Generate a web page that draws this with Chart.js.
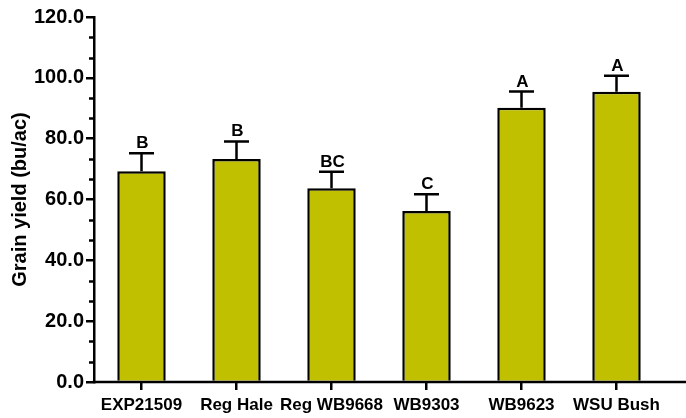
<!DOCTYPE html>
<html>
<head>
<meta charset="utf-8">
<script src="https://cdn.jsdelivr.net/npm/chart.js@4.4.1/dist/chart.umd.min.js"></script>
<style>
html,body{margin:0;padding:0;background:#fff;}
#wrap{width:686px;height:418px;position:relative;}
</style>
</head>
<body>
<div id="wrap"><canvas id="c" width="686" height="418"></canvas></div>
<script>
const categories = ['EXP21509', 'Reg Hale', 'Reg WB9668', 'WB9303', 'WB9623', 'WSU Bush'];
const yieldMeans = [69.3, 73.3, 63.7, 56.2, 90.2, 95.4];
const yieldErrors = [5.9, 5.8, 5.4, 5.5, 5.3, 5.3];
const groupLetters = ['B', 'B', 'BC', 'C', 'A', 'A'];
const yMin = 0, yMax = 120, yMajorStep = 20, yMinorPerMajor = 3;

const FONT = '"Liberation Sans", Arial, sans-serif';

const extrasPlugin = {
  id: 'extras',
  afterDatasetsDraw(chart) {
    const ctx = chart.ctx;
    const x = chart.scales.x, y = chart.scales.y;
    ctx.save();
    ctx.strokeStyle = '#000';
    ctx.fillStyle = '#000';
    ctx.lineWidth = 2.5;
    ctx.lineCap = 'butt';
    yieldMeans.forEach((m, i) => {
      const cx = x.getPixelForValue(i);
      const yTop = y.getPixelForValue(m);
      const yCap = y.getPixelForValue(m + yieldErrors[i]);
      ctx.beginPath();
      ctx.moveTo(cx, yTop);
      ctx.lineTo(cx, yCap);
      ctx.moveTo(cx - 12.5, yCap);
      ctx.lineTo(cx + 12.5, yCap);
      ctx.stroke();
      ctx.font = 'bold 17px ' + FONT;
      ctx.textAlign = 'center';
      ctx.textBaseline = 'alphabetic';
      ctx.fillText(groupLetters[i], cx + 1, yCap - 5);
    });
    ctx.restore();
  },
  afterDraw(chart) {
    const ctx = chart.ctx;
    const y = chart.scales.y;
    const area = chart.chartArea;
    ctx.save();
    ctx.strokeStyle = '#000';
    ctx.lineWidth = 2.5;
    const minorStep = yMajorStep / yMinorPerMajor;
    for (let k = 0; k * minorStep <= yMax + 1e-9; k++) {
      if (k % yMinorPerMajor === 0) continue;
      const py = Math.round(y.getPixelForValue(k * minorStep)) + 0.5;
      ctx.beginPath();
      ctx.moveTo(area.left - 5, py);
      ctx.lineTo(area.left, py);
      ctx.stroke();
    }
    ctx.beginPath();
    ctx.moveTo(area.left - 1.25, area.bottom);
    ctx.lineTo(chart.width, area.bottom);
    ctx.stroke();
    ctx.restore();
  }
};

new Chart(document.getElementById('c'), {
  type: 'bar',
  data: {
    labels: categories,
    datasets: [{
      data: yieldMeans,
      backgroundColor: '#C0C000',
      borderColor: '#000',
      borderWidth: 2.5,
      borderSkipped: 'bottom',
      barPercentage: 0.51,
      categoryPercentage: 1.0
    }]
  },
  options: {
    responsive: false,
    animation: false,
    devicePixelRatio: 1,
    layout: { padding: { top: 17, right: 22, bottom: 0, left: 0 } },
    plugins: { legend: { display: false }, tooltip: { enabled: false } },
    scales: {
      x: {
        grid: { display: true, drawOnChartArea: false, offset: false, tickLength: 8, color: '#000', lineWidth: 2.5 },
        border: { display: false },
        ticks: { color: '#000', font: { family: FONT, size: 17, weight: 'bold' }, padding: 5, maxRotation: 0, autoSkip: false },
        afterFit(scale) { scale.height = 36; }
      },
      y: {
        min: yMin, max: yMax,
        grid: { drawOnChartArea: false, tickLength: 8, color: '#000', lineWidth: 2.5 },
        border: { display: true, color: '#000', width: 2.5 },
        ticks: { stepSize: yMajorStep, color: '#000', font: { family: FONT, size: 20, weight: 'bold' }, padding: 2,
          callback: v => Number(v).toFixed(1) },
        title: { display: true, text: 'Grain yield (bu/ac)', color: '#000', font: { family: FONT, size: 20, weight: 'bold' }, padding: { top: 8, bottom: 0 } },
        afterFit(scale) { scale.width = 94; }
      }
    }
  },
  plugins: [extrasPlugin]
});
</script>
</body>
</html>
